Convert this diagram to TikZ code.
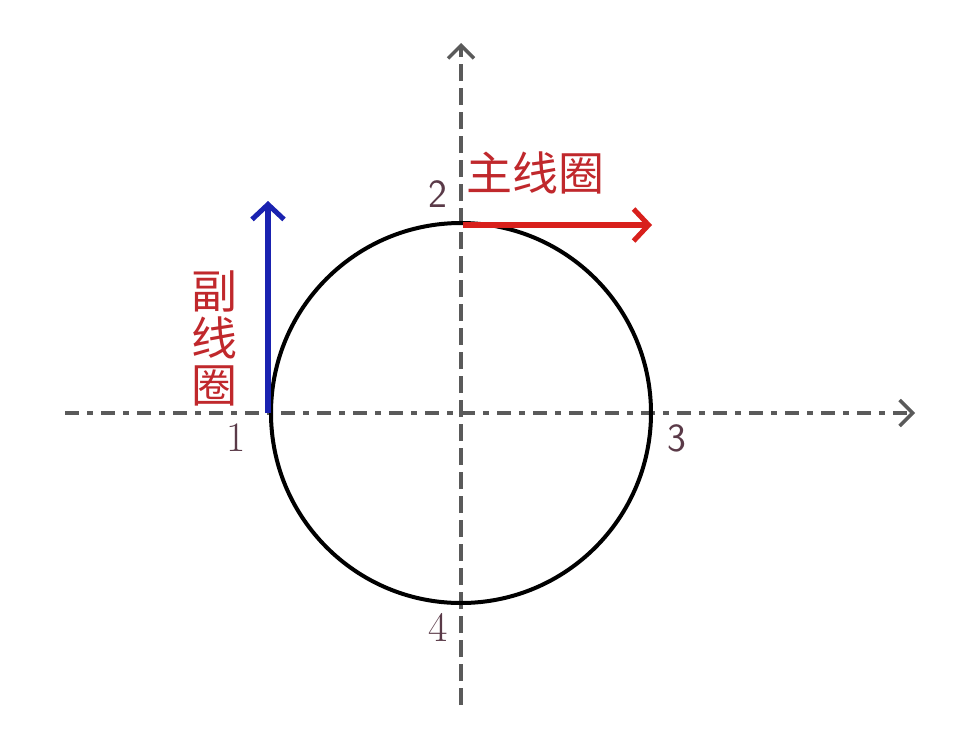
\documentclass[tikz,border=0pt]{standalone}
\usepackage{fontspec}
\newfontfamily\cjk{Noto Sans CJK SC}
\usetikzlibrary{arrows.meta}
\definecolor{axisgray}{HTML}{5A5A5A}
\definecolor{labred}{HTML}{C0282C}
\definecolor{numcol}{HTML}{5A3A48}
\definecolor{arrblue}{HTML}{1A22B0}
\definecolor{arrred}{HTML}{D8201C}
\begin{document}
\begin{tikzpicture}[x=1pt,y=-1pt,
  axis/.style={axisgray,line width=3.5pt,-{Straight Barb[length=13pt,width=26pt,line width=3.5pt]}},
  vec/.style={line width=5.5pt,-{Straight Barb[length=15pt,width=32pt,line width=5pt]}},
  num/.style={numcol,font=\fontsize{42}{42}\selectfont},
  cn/.style={labred,font=\cjk\fontsize{46}{47}\selectfont}]
\useasboundingbox (0,0) rectangle (968,740);
\fill[white] (0,0) rectangle (968,740);
\coordinate (O) at (461,413);
\coordinate (xs) at (65,413);
\coordinate (xe) at (915,413);
\coordinate (ys) at (461,705);
\coordinate (ye) at (461,43);
\draw[axis,dash pattern=on 14pt off 8pt on 6pt off 8pt] (xs) -- (xe);
\draw[axis,dash pattern=on 17pt off 7pt] (ys) -- (ye);
\node[circle,draw=black,line width=4pt,minimum size=380pt,inner sep=0pt] (c) at (O) {};
\coordinate (b0) at (268,413);
\coordinate (b1) at (268,201);
\draw[vec,arrblue] (b0) -- (b1);
\coordinate (r0) at (463,225);
\coordinate (r1) at (652,225);
\draw[vec,arrred] (r0) -- (r1);
\node[num] (n1) at (236,438) {1};
\node[num,font=\sffamily\fontsize{40}{40}\selectfont] (n2) at (438,194) {2};
\node[num,font=\sffamily\fontsize{40}{40}\selectfont] (n3) at (677,438) {3};
\node[num] (n4) at (438,627) {4};
\node[cn] (main) at (535,173) {主线圈};
\node[cn,align=center] (aux) at (214,338) {副\\线\\圈};
\end{tikzpicture}
\end{document}
